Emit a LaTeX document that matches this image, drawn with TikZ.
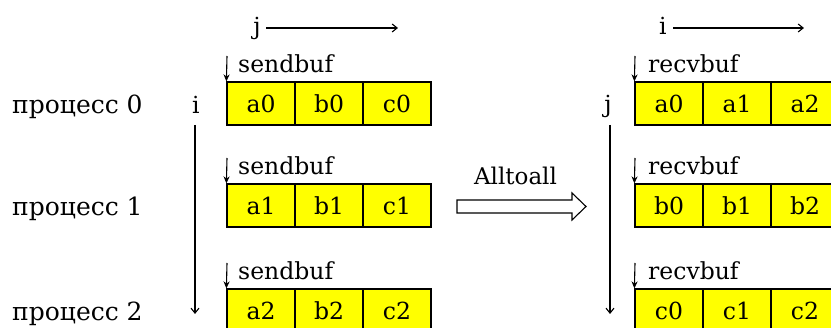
\documentclass[tikz,border=0pt]{standalone}
\usepackage{fontspec}
\setmainfont{DejaVu Serif}
\usetikzlibrary{arrows.meta}
\definecolor{cellyellow}{RGB}{255,255,0}
\tikzset{
  cell/.style={draw=black, line width=1.2pt, fill=cellyellow,
    minimum width=68pt, minimum height=43pt, inner sep=0pt,
    font=\fontsize{23.5}{27}\selectfont},
  txt/.style={inner sep=0pt, font=\fontsize{23.5}{27}\selectfont},
  proc/.style={inner sep=0pt, anchor=base west, font=\fontsize{25}{29}\selectfont},
  axis/.style={line width=1.1pt, -{Straight Barb[length=5pt,width=8pt]}},
  mark arrow/.style={line width=1.1pt, -{Stealth[length=7pt,width=6pt]}},
}
\begin{document}
\begin{tikzpicture}[x=1pt, y=-1pt]
\useasboundingbox (0,0) rectangle (831,328);
\clip (0,0) rectangle (831,328);

% process names
\node[proc] (p0) at (12,114) {процесс 0};
\node[proc] (p1) at (12,216) {процесс 1};
\node[proc] (p2) at (12,321) {процесс 2};

% ---------- send buffers ----------
\node[txt, anchor=base] (sj) at (257,35) {j};
\coordinate (sjstart) at (266,28);
\coordinate (sjend) at (398,28);
\draw[axis] (sjstart) -- (sjend);

\node[txt, anchor=base] (si) at (196,114) {i};
\coordinate (sistart) at (195,125);
\coordinate (siend) at (195,314);
\draw[axis] (sistart) -- (siend);

\foreach \r/\y/\d in {0/103.5/0, 1/205.5/1, 2/310.5/2} {
  \node[cell] (sa\r) at (261,\y) {a\d};
  \node[cell] (sb\r) at (329,\y) {b\d};
  \node[cell] (sc\r) at (397,\y) {c\d};
  \node[txt, anchor=base west] (sl\r) at (238,\y-30.5) {sendbuf};
  \coordinate (sm\r) at (227,\y-47.5);
  \draw[mark arrow] (sm\r) -- (sa\r.north west);
}

% ---------- exchange arrow ----------
\node[inner sep=0pt, anchor=base, font=\fontsize{23}{27}\selectfont] (op) at (515.5,185) {Alltoall};
\draw[line width=1.1pt, fill=white]
  (457,200) -- (572,200) -- (572,193) -- (586,206.5) -- (572,220)
  -- (572,213) -- (457,213) -- cycle;

% ---------- receive buffers ----------
\node[txt, anchor=base] (ri) at (663,35) {i};
\coordinate (ristart) at (673,28);
\coordinate (riend) at (804,28);
\draw[axis] (ristart) -- (riend);

\node[txt, anchor=base] (rj) at (608,113) {j};
\coordinate (rjstart) at (610,125);
\coordinate (rjend) at (610,314);
\draw[axis] (rjstart) -- (rjend);

\foreach \r/\y/\l in {0/103.5/a, 1/205.5/b, 2/310.5/c} {
  \node[cell] (r\r0) at (669,\y) {\l0};
  \node[cell] (r\r1) at (737,\y) {\l1};
  \node[cell] (r\r2) at (805,\y) {\l2};
  \node[txt, anchor=base west] (rl\r) at (648,\y-30.5) {recvbuf};
  \coordinate (rm\r) at (635,\y-47.5);
  \draw[mark arrow] (rm\r) -- (r\r0.north west);
}
\end{tikzpicture}
\end{document}
